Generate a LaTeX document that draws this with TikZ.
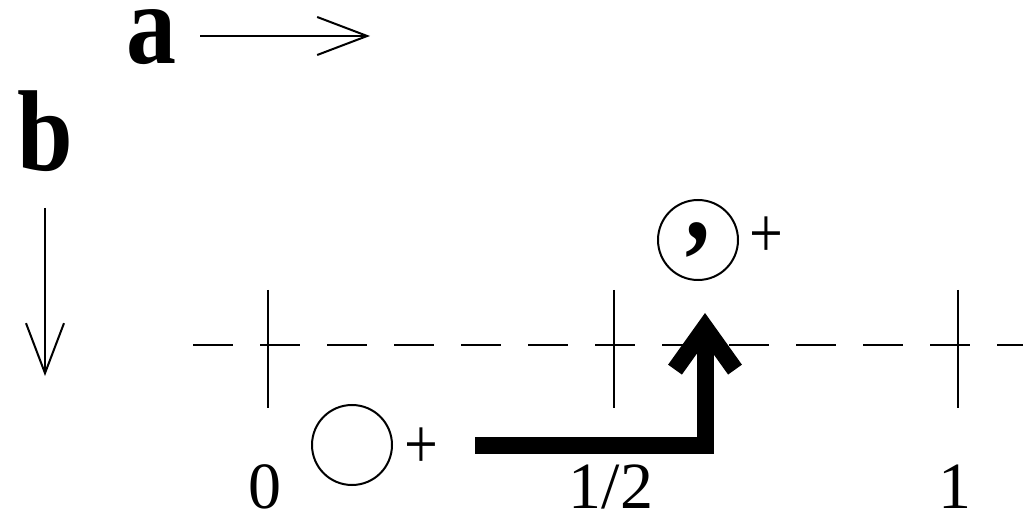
\documentclass[tikz,border=0pt]{standalone}
\usepackage{fontspec}
\setmainfont{Liberation Serif}
\usetikzlibrary{arrows.meta}

\begin{document}
\begin{tikzpicture}[
  x=0.5pt, y=-0.5pt,
  dirarr/.style={-{Straight Barb[length=25pt,width=19pt]},line width=1pt},
  tickln/.style={line width=1pt},
  atom/.style={circle,draw,line width=1pt,minimum size=40pt,inner sep=0pt},
  big/.style={font=\fontsize{50}{52}\selectfont\bfseries,inner sep=0pt,
    yscale=1.15,transform shape},
  num/.style={font=\fontsize{33}{36}\selectfont,inner sep=0pt},
  plus/.style={font=\fontsize{30}{32}\selectfont,inner sep=0pt,
    yscale=1.2,transform shape},
  move/.style={line width=8.5pt,-{Straight Barb[length=21pt,width=30pt]}}
]
  \useasboundingbox (0,0) rectangle (1023,513);

  % directions
  \node[big] (la) at (151,37) {a};
  \node[big] (lb) at (45,131) {b};
  \coordinate (a0) at (200,36);
  \coordinate (a1) at (370,36);
  \coordinate (b0) at (45,208);
  \coordinate (b1) at (45,376);
  \draw[dirarr] (a0) -- (a1);
  \draw[dirarr] (b0) -- (b1);

  % axis with ticks
  \coordinate (ax0) at (193,345);
  \coordinate (ax1) at (1023,345);
  \draw[tickln,dash pattern=on 20pt off 13.5pt] (ax0) -- (ax1);
  \foreach \x/\lab/\nm in {268/0/t0, 614/1\slash 2/t1, 958/1/t2} {
    \draw[tickln] (\x,290) -- (\x,408);
    \node[num] (\nm) at (\x-3,487) {\lab};
  }

  % atoms
  \node[atom] (p1) at (352,445) {};
  \node[plus] (s1) at (421,448) {+};
  \node[atom] (p2) at (698,240) {};
  \node[big] (cm) at (p2) {,};
  \node[plus] (s2) at (766,237) {+};

  % jump
  \coordinate (m0) at (475,445);
  \coordinate (m1) at (705,445);
  \coordinate (m2) at (705,313);
  \draw[move] (m0) -- (m1) -- (m2);
\end{tikzpicture}
\end{document}
